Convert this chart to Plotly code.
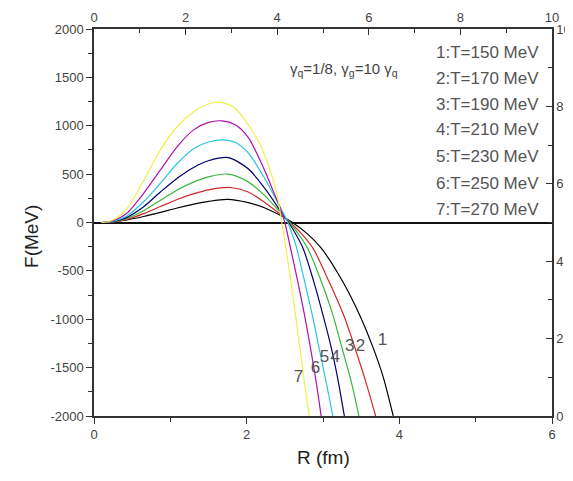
import plotly.graph_objects as go

# ---------------- data ----------------
curve_labels = ["1", "2", "3", "4", "5", "6", "7"]
legend_texts = ["1:T=150 MeV", "2:T=170 MeV", "3:T=190 MeV", "4:T=210 MeV",
                "5:T=230 MeV", "6:T=250 MeV", "7:T=270 MeV"]
colors = ["#000000", "#d02828", "#38b838", "#000070", "#28c8e0", "#b010b0", "#f0f048"]

r1 = [0.10, 0.20, 0.30, 0.43, 0.65, 0.87, 1.09, 1.31, 1.50, 1.75, 2.02, 2.24, 2.45, 2.60, 2.80, 2.98, 3.26, 3.48, 3.65, 3.79, 3.92]
f1 = [0, 4, 11, 26, 62, 104, 150, 190, 218, 238, 205, 150, 70, 0, -120, -268, -613, -957, -1280, -1600, -2000]

r2 = [0.10, 0.20, 0.30, 0.43, 0.65, 0.87, 1.09, 1.31, 1.50, 1.79, 2.02, 2.24, 2.45, 2.57, 2.70, 2.87, 3.08, 3.27, 3.42, 3.56, 3.69]
f2 = [0, 3, 12, 33, 92, 165, 238, 298, 338, 362, 315, 205, 80, 0, -100, -268, -613, -957, -1300, -1645, -2000]

r3 = [0.10, 0.20, 0.30, 0.43, 0.65, 0.87, 1.09, 1.31, 1.50, 1.76, 2.02, 2.24, 2.45, 2.56, 2.68, 2.80, 2.98, 3.13, 3.25, 3.37, 3.47]
f3 = [0, 4, 15, 43, 122, 230, 335, 420, 472, 500, 420, 275, 95, 0, -120, -268, -613, -957, -1300, -1645, -2000]

r4 = [0.10, 0.20, 0.30, 0.43, 0.65, 0.87, 1.09, 1.31, 1.50, 1.76, 2.02, 2.24, 2.45, 2.55, 2.65, 2.74, 2.88, 3.00, 3.11, 3.19, 3.28]
f4 = [0, 5, 19, 53, 163, 315, 458, 572, 638, 670, 555, 350, 110, 0, -130, -268, -613, -957, -1300, -1600, -2000]

r5 = [0.10, 0.20, 0.30, 0.43, 0.65, 0.87, 1.09, 1.31, 1.50, 1.70, 1.85, 2.02, 2.24, 2.45, 2.54, 2.60, 2.65, 2.76, 2.86, 2.95, 3.04, 3.13]
f5 = [0, 6, 24, 67, 215, 406, 610, 765, 832, 854, 830, 720, 450, 140, 0, -130, -250, -613, -957, -1300, -1645, -2000]

r6 = [0.10, 0.20, 0.30, 0.43, 0.65, 0.87, 1.09, 1.31, 1.50, 1.68, 1.85, 2.02, 2.24, 2.36, 2.45, 2.50, 2.565, 2.67, 2.758, 2.837, 2.91, 2.976]
f6 = [0, 8, 33, 95, 302, 543, 785, 960, 1035, 1050, 1010, 880, 530, 300, 130, 0, -230, -613, -957, -1300, -1645, -2000]

r7 = [0.10, 0.20, 0.30, 0.435, 0.654, 0.87, 1.09, 1.31, 1.50, 1.65, 1.84, 2.02, 2.18, 2.28, 2.37, 2.42, 2.46, 2.52, 2.58, 2.64, 2.70, 2.76, 2.82]
f7 = [0, 10, 48, 147, 440, 750, 992, 1147, 1225, 1245, 1185, 1010, 800, 600, 380, 200, 0, -300, -620, -960, -1320, -1680, -2000]

curve_r = [r1, r2, r3, r4, r5, r6, r7]
curve_f = [f1, f2, f3, f4, f5, f6, f7]

label_r = [3.78, 3.49, 3.35, 3.16, 3.02, 2.90, 2.68]
label_f = [-1225, -1284, -1284, -1397, -1397, -1514, -1604]

y_ticks = [-2000, -1500, -1000, -500, 0, 500, 1000, 1500, 2000]
x_ticks = [0, 2, 4, 6]
top_ticks = [0, 2, 4, 6, 8, 10]
right_ticks = [0, 2, 4, 6, 8, 10]

# ---------------- figure ----------------
REG = "Liberation Sans, Arial, sans-serif"
AX = "#333333"

fig = go.Figure()
for r, f, c in zip(curve_r, curve_f, colors):
    fig.add_trace(go.Scatter(x=r, y=f, mode="lines",
                             line=dict(color=c, width=1.2, shape="spline", smoothing=0.8),
                             showlegend=False, hoverinfo="skip"))

fig.add_trace(go.Scatter(x=label_r, y=label_f, mode="text", text=curve_labels,
                         textfont=dict(family=REG, size=17, color="#555555"),
                         showlegend=False, hoverinfo="skip"))

# placeholder trace so the secondary (top/right) axes exist
fig.add_trace(go.Scatter(x=[None], y=[None], xaxis="x2", yaxis="y2", showlegend=False, hoverinfo="skip"))

tickfont = dict(family=REG, size=13, color="#444444")

common = dict(showgrid=False, automargin=False, tickcolor=AX, showline=True,
              linecolor=AX, linewidth=1.5, tickfont=tickfont)

# the page body adds an 8px offset, so the figure is 8px smaller than the window
fig.update_layout(
    width=565, height=473,
    margin=dict(l=86, r=21, t=21, b=65),
    paper_bgcolor="white", plot_bgcolor="white",
    xaxis=dict(range=[0, 6], tickvals=x_ticks, ticktext=[str(v) for v in x_ticks],
               ticks="outside", ticklen=6, zeroline=False,
               minor=dict(dtick=1, ticks="outside", ticklen=4, tickcolor=AX, showgrid=False), **common),
    yaxis=dict(range=[-2000, 2000], tickvals=y_ticks, ticktext=[str(v) for v in y_ticks],
               ticks="outside", ticklen=6,
               zeroline=True, zerolinecolor="#111111", zerolinewidth=1.5,
               minor=dict(dtick=250, ticks="outside", ticklen=4, tickcolor=AX, showgrid=False), **common),
    xaxis2=dict(range=[0, 10], overlaying="x", side="top", anchor="y",
                tickvals=top_ticks, ticktext=[str(v) for v in top_ticks],
                ticks="inside", ticklen=6, zeroline=False,
                minor=dict(dtick=1, ticks="inside", ticklen=4, tickcolor=AX, showgrid=False), **common),
    yaxis2=dict(range=[0, 10], overlaying="y", side="right", anchor="x",
                tickvals=right_ticks, ticktext=[str(v) for v in right_ticks],
                ticks="inside", ticklen=6, zeroline=False,
                minor=dict(dtick=1, ticks="inside", ticklen=4, tickcolor=AX, showgrid=False), **common),
)

annotations = [
    dict(text="F(MeV)", xref="paper", yref="paper", x=-0.165, y=0.465, textangle=-90,
         showarrow=False, font=dict(family=REG, size=19, color="#222222")),
    dict(text="R (fm)", xref="paper", yref="paper", x=0.5, y=-0.108, yanchor="middle",
         showarrow=False, font=dict(family=REG, size=19, color="#222222")),
    dict(text="γ<sub>q</sub>=1/8, γ<sub>g</sub>=10 γ<sub>q</sub>", xref="paper", yref="paper",
         x=0.545, y=0.926, showarrow=False, font=dict(family=REG, size=15, color="#444444")),
]
legend_y = [0.939, 0.871, 0.804, 0.740, 0.670, 0.602, 0.533]
for t, yy in zip(legend_texts, legend_y):
    annotations.append(dict(text=t, xref="paper", yref="paper", x=0.743, y=yy, xanchor="left",
                            yanchor="middle", showarrow=False,
                            font=dict(family=REG, size=17, color="#555555")))
fig.update_layout(annotations=annotations)

fig.write_html("out.html")
